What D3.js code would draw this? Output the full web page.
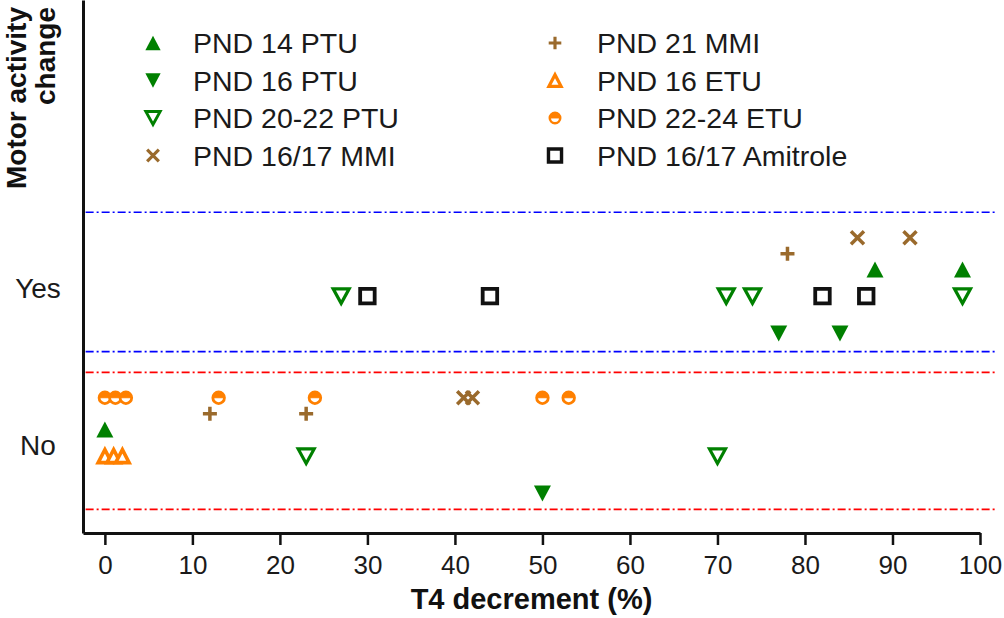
<!DOCTYPE html>
<html>
<head>
<meta charset="utf-8">
<script src="https://cdn.jsdelivr.net/npm/d3@7"></script>
<style>
  html, body { margin: 0; padding: 0; background: #fff; }
  svg { display: block; font-family: "Liberation Sans", Arial, sans-serif; }
</style>
</head>
<body>
<svg id="chart" width="1004" height="618"></svg>
<script>
// ---------------- DATA ----------------
const xTicks = [0, 10, 20, 30, 40, 50, 60, 70, 80, 90, 100];
const yTickValues = [0.065, 1.045];
const yTickLabels = ["No", "Yes"];
const xTitle = "T4 decrement (%)";
const yTitleLines = ["Motor activity", "change"];

const seriesNames = ["PND 14 PTU", "PND 16 PTU", "PND 20-22 PTU", "PND 16/17 MMI",
                     "PND 21 MMI", "PND 16 ETU", "PND 22-24 ETU", "PND 16/17 Amitrole"];

// x = T4 decrement (%), y = plotted motor-activity position (No ≈ 0, Yes ≈ 1)
const pnd14PTU_x = [88, 98, 0];
const pnd14PTU_y = [1.167, 1.167, 0.167];
const pnd16PTU_x = [77, 84, 50];
const pnd16PTU_y = [0.767, 0.767, -0.233];
const pnd2022PTU_x = [27, 71, 74, 98, 23, 70];
const pnd2022PTU_y = [1.0, 1.0, 1.0, 1.0, 0.0, 0.0];
const pnd1617MMI_x = [86, 92, 41, 42];
const pnd1617MMI_y = [1.365, 1.365, 0.365, 0.365];
const pnd21MMI_x = [78, 12, 23];
const pnd21MMI_y = [1.265, 0.265, 0.265];
const pnd16ETU_x = [0, 1, 2];
const pnd16ETU_y = [0.0, 0.0, 0.0];
const pnd2224ETU_x = [0, 1.2, 2.4, 13, 24, 50, 53];
const pnd2224ETU_y = [0.365, 0.365, 0.365, 0.365, 0.365, 0.365, 0.365];
const amitrole_x = [30, 44, 82, 87];
const amitrole_y = [1.0, 1.0, 1.0, 1.0];

// band boundary lines (Yes band in blue, No band in red)
const yesBandLines = [1.524, 0.653];
const noBandLines = [0.524, -0.332];

// ---------------- LAYOUT ----------------
const svg = d3.select("#chart");
const W = 1004, H = 618;
svg.append("rect").attr("width", W).attr("height", H).attr("fill", "#fff");

const x = d3.scaleLinear().domain([-2.5, 100]).range([83, 980]);
const y = d3.scaleLinear().domain([-0.48, 2.85]).range([533, 0]);

const GREEN = "#008000", BROWN = "#9a6a2c", ORANGE = "#ff8000", BLACK = "#111";

// ---------------- SHAPES ----------------
const shapes = {
  triUp: (w, h) => `M0,${-h/2}L${w/2},${h/2}L${-w/2},${h/2}Z`,
  triDown: (w, h) => `M0,${h/2}L${w/2},${-h/2}L${-w/2},${-h/2}Z`,
  square: (s) => `M${-s/2},${-s/2}H${s/2}V${s/2}H${-s/2}Z`,
  cross: (s) => `M${-s/2},${-s/2}L${s/2},${s/2}M${-s/2},${s/2}L${s/2},${-s/2}`,
  plus: (s) => `M${-s/2},0H${s/2}M0,${-s/2}V${s/2}`,
  circle: (r) => `M${-r},0A${r},${r} 0 1 1 ${r},0A${r},${r} 0 1 1 ${-r},0Z`,
  halfTop: (r) => `M${-r},0A${r},${r} 0 0 1 ${r},0Z`
};

function drawMarker(g, kind, k) {
  k = k || 1;
  switch (kind) {
    case "pnd14":
      g.append("path").attr("d", shapes.triUp(17*k, 16*k)).attr("fill", GREEN);
      break;
    case "pnd16":
      g.append("path").attr("d", shapes.triDown(17*k, 16*k)).attr("fill", GREEN);
      break;
    case "pnd2022":
      g.append("path").attr("d", shapes.triDown(16*k, 14.5*k)).attr("fill", "#fff")
        .attr("stroke", GREEN).attr("stroke-width", 3.2*k).attr("stroke-linejoin", "miter");
      break;
    case "mmi1617":
      g.append("path").attr("d", shapes.cross(13*k)).attr("fill", "none")
        .attr("stroke", BROWN).attr("stroke-width", 3.5*k);
      break;
    case "mmi21":
      g.append("path").attr("d", shapes.plus(14*k)).attr("fill", "none")
        .attr("stroke", BROWN).attr("stroke-width", 3.5*k);
      break;
    case "etu16":
      g.append("path").attr("d", shapes.triUp(13.5*k, 13*k)).attr("fill", "#fff")
        .attr("stroke", ORANGE).attr("stroke-width", 3.6*k).attr("stroke-linejoin", "miter");
      break;
    case "etu2224":
      g.append("path").attr("d", shapes.circle(5.8*k)).attr("fill", "#fff")
        .attr("stroke", ORANGE).attr("stroke-width", 2.8*k);
      g.append("path").attr("d", shapes.halfTop(5.8*k)).attr("fill", ORANGE)
        .attr("stroke", ORANGE).attr("stroke-width", 1*k);
      break;
    case "amitrole":
      g.append("path").attr("d", shapes.square(14.5*k)).attr("fill", "#fff")
        .attr("stroke", BLACK).attr("stroke-width", 3.8*k);
      break;
  }
}

const series = [
  { name: seriesNames[0], kind: "pnd14",   xs: pnd14PTU_x,   ys: pnd14PTU_y },
  { name: seriesNames[1], kind: "pnd16",   xs: pnd16PTU_x,   ys: pnd16PTU_y },
  { name: seriesNames[2], kind: "pnd2022", xs: pnd2022PTU_x, ys: pnd2022PTU_y },
  { name: seriesNames[3], kind: "mmi1617", xs: pnd1617MMI_x, ys: pnd1617MMI_y },
  { name: seriesNames[4], kind: "mmi21",   xs: pnd21MMI_x,   ys: pnd21MMI_y },
  { name: seriesNames[5], kind: "etu16",   xs: pnd16ETU_x,   ys: pnd16ETU_y },
  { name: seriesNames[6], kind: "etu2224", xs: pnd2224ETU_x, ys: pnd2224ETU_y },
  { name: seriesNames[7], kind: "amitrole",xs: amitrole_x,   ys: amitrole_y }
];

// ---------------- BAND LINES ----------------
const bandG = svg.append("g");
function bandLines(vals, color) {
  bandG.selectAll(null).data(vals).enter().append("line")
    .attr("x1", x(-2.2)).attr("x2", 997)
    .attr("y1", d => y(d)).attr("y2", d => y(d))
    .attr("stroke", color).attr("stroke-width", 1.7)
    .attr("stroke-dasharray", "8,3,2,3");
}
bandLines(yesBandLines, "#0000ff");
bandLines(noBandLines, "#ff0000");

// ---------------- AXES ----------------
const xAxis = svg.append("g").attr("transform", `translate(0,${y(-0.48)})`)
  .call(d3.axisBottom(x).tickValues(xTicks).tickSize(12).tickSizeOuter(0).tickPadding(11));
xAxis.select(".domain").attr("stroke", BLACK).attr("stroke-width", 3);
xAxis.selectAll(".tick line").attr("stroke", BLACK).attr("stroke-width", 2.5);
xAxis.selectAll(".tick text").attr("font-size", 26).attr("fill", "#1a1a1a")
  .attr("font-family", "Liberation Sans, Arial, sans-serif");

const yAxis = svg.append("g").attr("transform", `translate(${x(-2.5)},0)`)
  .call(d3.axisLeft(y).tickValues(yTickValues).tickSize(0).tickSizeOuter(0)
    .tickFormat((d, i) => yTickLabels[i]));
yAxis.select(".domain").attr("stroke", BLACK).attr("stroke-width", 3);
yAxis.selectAll(".tick text").attr("font-size", 28).attr("fill", "#1a1a1a")
  .attr("text-anchor", "middle").attr("x", -45)
  .attr("font-family", "Liberation Sans, Arial, sans-serif");

// axis titles
svg.append("text").attr("x", 531.5).attr("y", 609)
  .attr("text-anchor", "middle").attr("font-size", 29).attr("font-weight", "bold")
  .attr("fill", "#111").text(xTitle);

const yt = svg.append("g");
yTitleLines.forEach((t, i) => {
  yt.append("text")
    .attr("transform", `translate(${26 + i*29},7) rotate(-90)`)
    .attr("text-anchor", "end").attr("font-size", 28).attr("font-weight", "bold")
    .attr("fill", "#111").text(t);
});

// ---------------- POINTS ----------------
const ptsG = svg.append("g");
series.forEach(s => {
  s.xs.forEach((xv, i) => {
    const g = ptsG.append("g").attr("transform", `translate(${x(xv)},${y(s.ys[i])})`);
    drawMarker(g, s.kind, 1);
  });
});

// ---------------- LEGEND ----------------
const legG = svg.append("g");
series.forEach((s, i) => {
  const col = Math.floor(i / 4), row = i % 4;
  const mx = col === 0 ? 153 : 555;
  const tx = col === 0 ? 193 : 597;
  const ry = 43 + row * 37.5;
  const g = legG.append("g").attr("transform", `translate(${mx},${ry})`);
  drawMarker(g, s.kind, 0.9);
  legG.append("text").attr("x", tx).attr("y", ry).attr("dy", "0.36em")
    .attr("font-size", 28.5).attr("fill", "#1a1a1a").text(s.name);
});
</script>
</body>
</html>
